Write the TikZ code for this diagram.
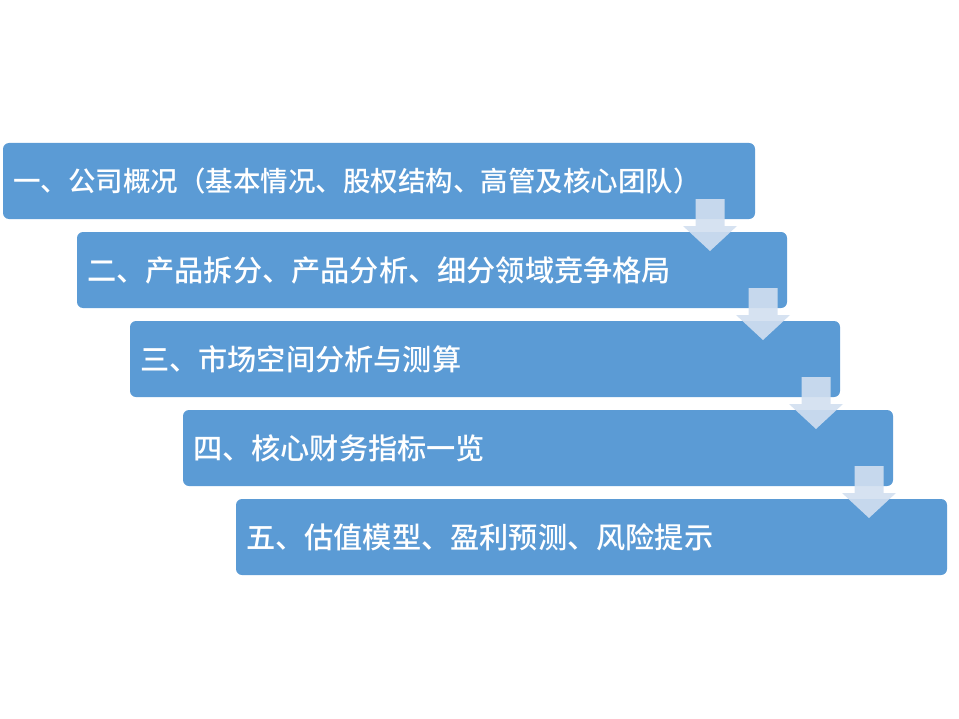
\documentclass[tikz,border=0pt]{standalone}
\usepackage{fontspec}
\newfontfamily\cjk{Noto Sans CJK SC}[UprightFont={* Medium}]
\usetikzlibrary{calc}
\definecolor{boxblue}{HTML}{5B9BD5}
\definecolor{arrowblue}{HTML}{D2DFF0}
\begin{document}
\begin{tikzpicture}[x=1bp,y=-1bp,
  stepbox/.style={fill=boxblue, draw=none, rounded corners=6bp, minimum height=76bp,
    inner xsep=10bp, inner ysep=0bp, outer sep=0bp, anchor=north west, text=white, align=left,
    font=\cjk\fontsize{29.2bp}{34bp}\selectfont},
  downarrow/.style={fill=arrowblue, fill opacity=0.9, draw=none}]
\useasboundingbox (0,0) rectangle (959,719);
\node[stepbox, text width=732bp, font=\cjk\fontsize{27.5bp}{34bp}\selectfont] (b1) at (3,143) {一、公司概况（基本情况、股权结构、高管及核心团队）};
\node[stepbox, text width=690bp] (b2) at (77,232) {二、产品拆分、产品分析、细分领域竞争格局};
\node[stepbox, text width=690bp] (b3) at (130,321) {三、市场空间分析与测算};
\node[stepbox, text width=690bp] (b4) at (183,410) {四、核心财务指标一览};
\node[stepbox, text width=691bp] (b5) at (236,499) {五、估值模型、盈利预测、风险提示};
\foreach \b/\n in {b2/a1,b3/a2,b4/a3,b5/a4} {
  \coordinate (\n) at ($(\b.north west)+(633,-33)$);
  \fill[downarrow] ($(\n)+(-14.5,0)$) -- ++(29,0) -- ++(0,27) -- ++(12.5,0)
    -- ($(\n)+(0,52)$) -- ($(\n)+(-27,27)$) -- ++(12.5,0) -- cycle;
}
\end{tikzpicture}
\end{document}
